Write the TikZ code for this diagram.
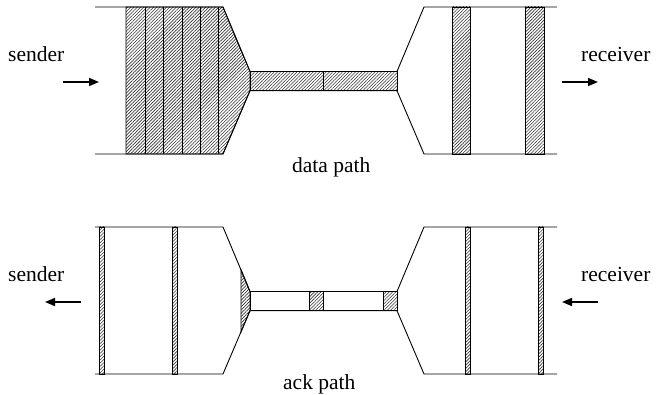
\documentclass[tikz,border=0pt]{standalone}
\usepackage{fontspec}
\setmainfont{Liberation Serif}
\usetikzlibrary{patterns.meta,arrows.meta}
\tikzset{
  hatch/.style={draw=black, line width=0.8pt, pattern={Lines[angle=45,distance=2.3pt,line width=0.6pt]}, pattern color=black!80},
  wall/.style={draw=black, line width=0.9pt},
  label/.style={inner sep=0pt, anchor=base west, font=\fontsize{21.5}{24}\selectfont},
  flow/.style={line width=1.6pt, -{Stealth[length=10pt,width=8pt,inset=0pt]}}
}
\begin{document}
\begin{tikzpicture}[x=1pt,y=-1pt]
\useasboundingbox (0,0) rectangle (657,395);

% ---------------- data path ----------------
\path[hatch] (126,7) -- (223,7) -- (250,71.5) -- (250,90.7) -- (223,154) -- (126,154) -- cycle;
\foreach \x in {145,163,182,200,218} \draw[wall] (\x,7) -- (\x,154);
\path[hatch] (250,71.5) rectangle (397,90.7);
\draw[wall] (323,71.5) -- (323,90.7);
\path[hatch] (452,7) rectangle (470,154);
\path[hatch] (525,7) rectangle (544,154);
\draw[wall] (95,7) -- (223,7) -- (250,71.5) -- (397,71.5) -- (424,7) -- (557,7);
\draw[wall] (95,154) -- (223,154) -- (250,90.7) -- (397,90.7) -- (424,154) -- (557,154);
\draw[wall] (250,71.5) -- (250,90.7);
\draw[wall] (397,71.5) -- (397,90.7);

\node[label] (s1) at (8,62) {sender};
\node[label] (r1) at (581,62) {receiver};
\node[label] (d1) at (292,173) {data path};
\coordinate (s1a) at (63,82);
\coordinate (s1b) at (99,82);
\coordinate (r1a) at (562,82);
\coordinate (r1b) at (598,82);
\draw[flow] (s1a) -- (s1b);
\draw[flow] (r1a) -- (r1b);

% ---------------- ack path ----------------
\path[hatch] (99.3,227) rectangle (104.7,374);
\path[hatch] (172.3,227) rectangle (177.7,374);
\path[hatch] (241,269.5) -- (250,291.5) -- (250,310.7) -- (241,332) -- cycle;
\path[hatch] (309.3,291.5) rectangle (323.7,310.7);
\path[hatch] (383.3,291.5) rectangle (397,310.7);
\path[hatch] (465.3,227) rectangle (470.3,374);
\path[hatch] (538.7,227) rectangle (543.7,374);
\draw[wall] (95,227) -- (223,227) -- (250,291.5) -- (397,291.5) -- (424,227) -- (557,227);
\draw[wall] (95,374) -- (223,374) -- (250,310.7) -- (397,310.7) -- (424,374) -- (557,374);
\draw[wall] (250,291.5) -- (250,310.7);
\draw[wall] (397,291.5) -- (397,310.7);

\node[label] (s2) at (8,282) {sender};
\node[label] (r2) at (581,282) {receiver};
\node[label] (d2) at (283,390) {ack path};
\coordinate (s2a) at (81,302);
\coordinate (s2b) at (45,302);
\coordinate (r2a) at (598,302);
\coordinate (r2b) at (562,302);
\draw[flow] (s2a) -- (s2b);
\draw[flow] (r2a) -- (r2b);
\end{tikzpicture}
\end{document}
